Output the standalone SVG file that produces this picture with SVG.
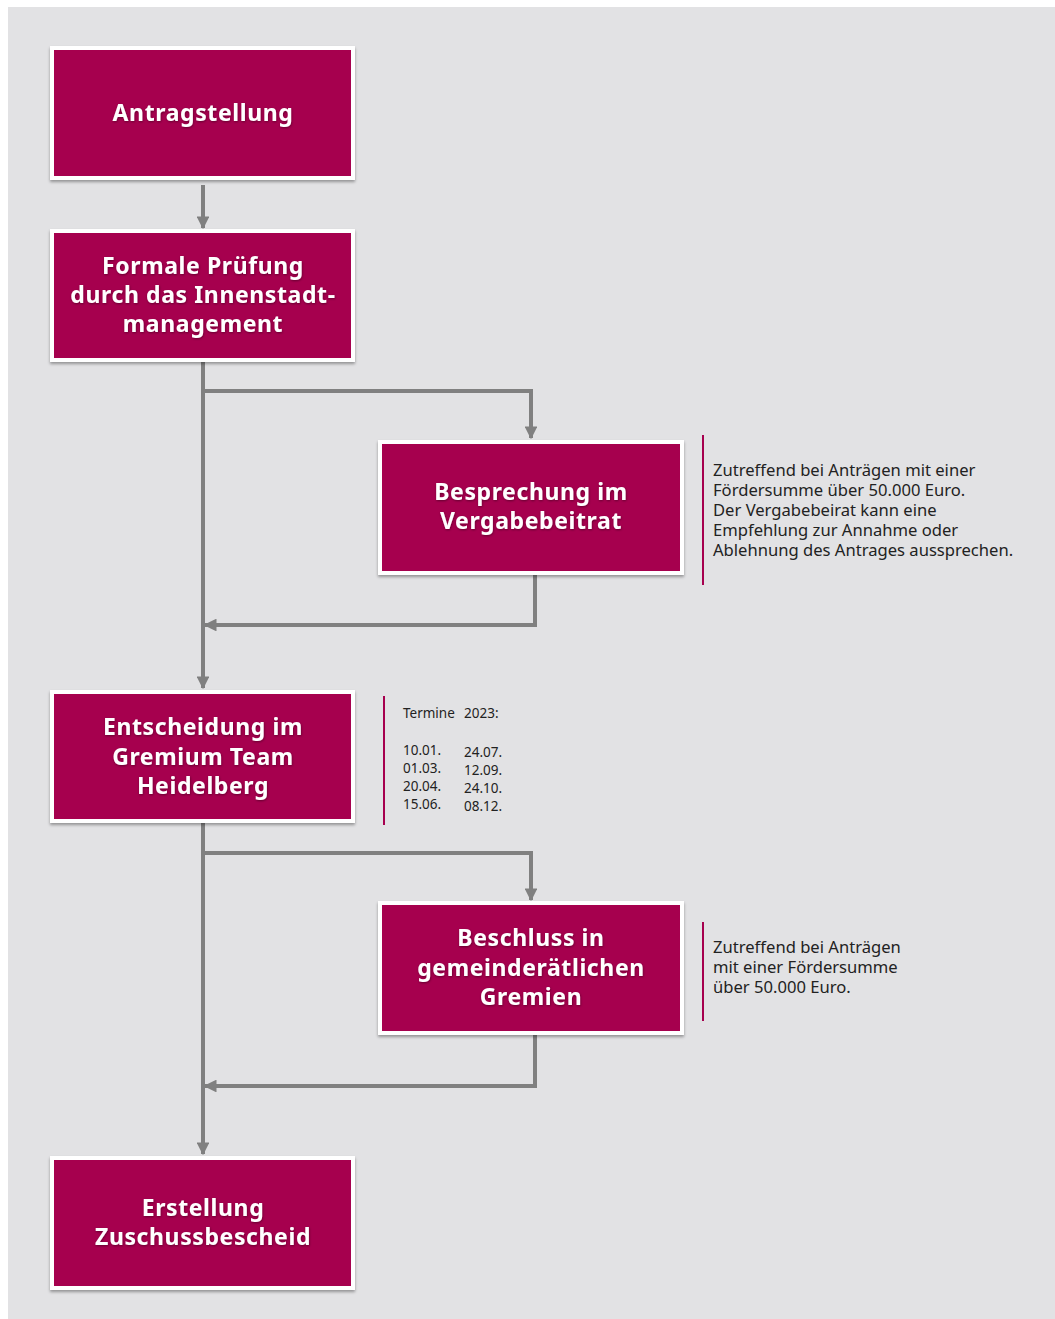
<svg xmlns="http://www.w3.org/2000/svg" width="1055" height="1319" viewBox="0 0 1055 1319">
<style>
.node rect.o{fill:#ffffff;filter:url(#sh)}
.node rect.i{fill:#a6004e}
.node text{font-family:"Noto Sans","Open Sans",sans-serif;font-weight:bold;font-size:23px;letter-spacing:0.6px;fill:#ffffff;text-anchor:middle;filter:url(#tsh)}
.con{stroke:#808080;stroke-width:4;fill:none}
.note{font-family:"Noto Sans","Open Sans",sans-serif;font-size:16.6px;fill:#222222}
.small{font-family:"Noto Sans","Open Sans",sans-serif;font-size:13.5px;fill:#222222}
.bar{stroke:#a6004e;stroke-width:2}
</style>
<defs>
<filter id="sh" x="-5%" y="-5%" width="110%" height="115%">
<feDropShadow dx="0" dy="2" stdDeviation="1.5" flood-color="#000" flood-opacity="0.35"/>
</filter>
<filter id="tsh" x="-5%" y="-20%" width="110%" height="150%">
<feDropShadow dx="0.5" dy="1" stdDeviation="0.8" flood-color="#000" flood-opacity="0.4"/>
</filter>
<marker id="ah" viewBox="0 0 10 10" refX="9" refY="5" markerWidth="3.2" markerHeight="3.2" orient="auto" markerUnits="strokeWidth">
<path d="M0,0 L10,5 L0,10 z" fill="#808080"/>
</marker>
</defs>
<rect x="0" y="0" width="1055" height="1319" fill="#ffffff"/>
<rect x="8" y="7" width="1047" height="1312" fill="#e2e2e4"/>

<g id="connectors">
<path class="con" d="M203,185 V228" marker-end="url(#ah)"/>
<path class="con" d="M203,362 V688" marker-end="url(#ah)"/>
<path class="con" d="M203,391 H531 V438" marker-end="url(#ah)"/>
<path class="con" d="M535,575 V625 H205" marker-end="url(#ah)"/>
<path class="con" d="M203,823 V1154" marker-end="url(#ah)"/>
<path class="con" d="M203,853 H531 V900" marker-end="url(#ah)"/>
<path class="con" d="M535,1035 V1086 H205" marker-end="url(#ah)"/>
</g>

<g id="n1" class="node">
<rect class="o" x="50" y="46" width="305" height="134"/>
<rect class="i" x="54" y="50" width="297" height="126"/>
<text x="203" y="121">Antragstellung</text>
</g>
<g id="n2" class="node">
<rect class="o" x="50" y="229" width="305" height="133"/>
<rect class="i" x="54" y="233" width="297" height="125"/>
<text x="203" y="274">Formale Prüfung</text>
<text x="203" y="303">durch das Innenstadt-</text>
<text x="203" y="332">management</text>
</g>
<g id="n3" class="node">
<rect class="o" x="378" y="440" width="306" height="135"/>
<rect class="i" x="382" y="444" width="298" height="127"/>
<text x="531" y="500">Besprechung im</text>
<text x="531" y="529">Vergabebeitrat</text>
</g>
<g id="n4" class="node">
<rect class="o" x="50" y="690" width="305" height="133"/>
<rect class="i" x="54" y="694" width="297" height="125"/>
<text x="203" y="735">Entscheidung im</text>
<text x="203" y="765">Gremium Team</text>
<text x="203" y="794">Heidelberg</text>
</g>
<g id="n5" class="node">
<rect class="o" x="378" y="901" width="306" height="134"/>
<rect class="i" x="382" y="905" width="298" height="126"/>
<text x="531" y="946">Beschluss in</text>
<text x="531" y="976">gemeinderätlichen</text>
<text x="531" y="1005">Gremien</text>
</g>
<g id="n6" class="node">
<rect class="o" x="50" y="1156" width="305" height="134"/>
<rect class="i" x="54" y="1160" width="297" height="126"/>
<text x="203" y="1216">Erstellung</text>
<text x="203" y="1245">Zuschussbescheid</text>
</g>

<g id="note1">
<line class="bar" x1="703" y1="435" x2="703" y2="585"/>
<text class="note" x="713" y="476">Zutreffend bei Anträgen mit einer</text>
<text class="note" x="713" y="496">Fördersumme über 50.000 Euro.</text>
<text class="note" x="713" y="516">Der Vergabebeirat kann eine</text>
<text class="note" x="713" y="536">Empfehlung zur Annahme oder</text>
<text class="note" x="713" y="556">Ablehnung des Antrages aussprechen.</text>
</g>
<g id="note2">
<line class="bar" x1="384" y1="696" x2="384" y2="825"/>
<text class="small" y="718"><tspan x="403">Termine</tspan><tspan x="464">2023:</tspan></text>
<text class="small" x="403" y="755">10.01.</text>
<text class="small" x="403" y="773">01.03.</text>
<text class="small" x="403" y="791">20.04.</text>
<text class="small" x="403" y="809">15.06.</text>
<text class="small" x="464" y="757">24.07.</text>
<text class="small" x="464" y="775">12.09.</text>
<text class="small" x="464" y="793">24.10.</text>
<text class="small" x="464" y="811">08.12.</text>
</g>
<g id="note3">
<line class="bar" x1="703" y1="922" x2="703" y2="1021"/>
<text class="note" x="713" y="953">Zutreffend bei Anträgen</text>
<text class="note" x="713" y="973">mit einer Fördersumme</text>
<text class="note" x="713" y="993">über 50.000 Euro.</text>
</g>
</svg>
